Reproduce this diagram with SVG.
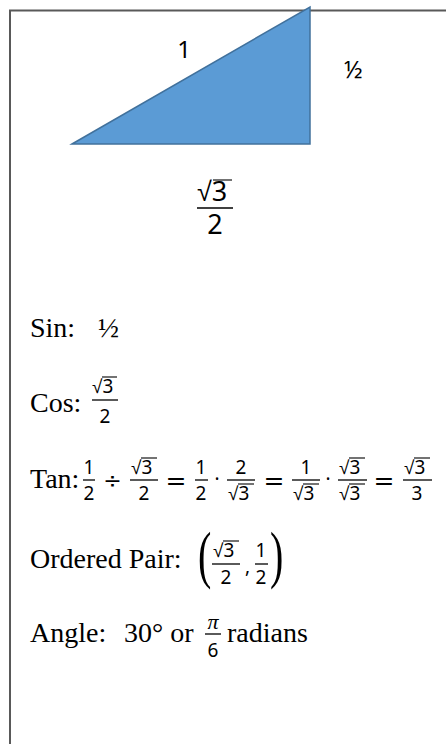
<svg xmlns="http://www.w3.org/2000/svg" width="446" height="744" viewBox="0 0 446 744">
<style>
.t{font-family:"Liberation Serif",serif;font-size:28px;fill:#000}
.m{font-family:"Noto Sans",sans-serif;font-size:19px;fill:#000}
.r{font-family:"Liberation Sans",sans-serif}
.op{font-family:"DejaVu Sans",sans-serif;font-size:25px;fill:#000}
.par{font-family:"Liberation Serif",serif;font-size:40px;fill:#000}
.bar{stroke:#000;stroke-width:1.3}
.ov{stroke:#000;stroke-width:1.1}
.lab{font-family:"Noto Sans",sans-serif;font-size:24px;fill:#000}
</style>
<rect width="446" height="744" fill="#fff"/>
<g id="border"><path d="M10,744 V10.5 H446" fill="none" stroke="#595959" stroke-width="2"/></g>
<g id="triangle"><polygon points="72,144 310,7 310,144" fill="#5B9BD5" stroke="#41719C" stroke-width="1.5"/></g>
<g id="side-labels">
<text class="lab" x="184" y="58" text-anchor="middle">1</text>
<text class="lab" x="344" y="78">½</text>
<g id="base-label">
<text class="m" style="font-size:27px" x="197" y="201"><tspan class="r">√</tspan>3</text>
<line class="ov" x1="213" y1="180" x2="232" y2="180"/>
<line class="bar" x1="197" y1="208" x2="233" y2="208" stroke-width="1.8"/>
<text class="m" style="font-size:27px" x="215" y="234" text-anchor="middle">2</text>
</g>
</g>
<g id="sin"><text class="t" x="30" y="337">Sin:</text><text class="t" x="98" y="337">½</text></g>
<g id="cos">
<text class="t" x="30" y="412">Cos:</text>
<text class="m" x="92" y="393"><tspan class="r">√</tspan>3</text>
<line class="ov" x1="102" y1="377" x2="117" y2="377"/>
<line class="bar" x1="92" y1="400" x2="118" y2="400"/>
<text class="m" x="105" y="423" text-anchor="middle">2</text>
</g>
<g id="tan">
<text class="t" x="30" y="488">Tan:</text>
<text class="m" x="89" y="474" text-anchor="middle">1</text>
<line class="bar" x1="83" y1="480" x2="95" y2="480"/>
<text class="m" x="89" y="500" text-anchor="middle">2</text>
<text class="op" x="112.5" y="488" text-anchor="middle" style="font-size:22px">÷</text>
<text class="m" x="131" y="474"><tspan class="r">√</tspan>3</text>
<line class="ov" x1="141" y1="458" x2="157" y2="458"/>
<line class="bar" x1="130" y1="480" x2="158" y2="480"/>
<text class="m" x="144" y="500" text-anchor="middle">2</text>
<text class="op" x="176" y="489" text-anchor="middle">=</text>
<text class="m" x="201" y="474" text-anchor="middle">1</text>
<line class="bar" x1="195" y1="480" x2="208" y2="480"/>
<text class="m" x="201" y="500" text-anchor="middle">2</text>
<text class="m" x="217" y="486" text-anchor="middle">·</text>
<text class="m" x="241" y="474" text-anchor="middle">2</text>
<line class="bar" x1="227" y1="480" x2="255" y2="480"/>
<text class="m" x="228" y="500"><tspan class="r">√</tspan>3</text>
<line class="ov" x1="238" y1="484" x2="254" y2="484"/>
<text class="op" x="274" y="489" text-anchor="middle">=</text>
<text class="m" x="306" y="474" text-anchor="middle">1</text>
<line class="bar" x1="292" y1="480" x2="320" y2="480"/>
<text class="m" x="293" y="500"><tspan class="r">√</tspan>3</text>
<line class="ov" x1="303" y1="484" x2="319" y2="484"/>
<text class="m" x="328" y="486" text-anchor="middle">·</text>
<text class="m" x="339" y="474"><tspan class="r">√</tspan>3</text>
<line class="ov" x1="349" y1="458" x2="365" y2="458"/>
<line class="bar" x1="338" y1="480" x2="367" y2="480"/>
<text class="m" x="339" y="500"><tspan class="r">√</tspan>3</text>
<line class="ov" x1="349" y1="484" x2="365" y2="484"/>
<text class="op" x="384" y="489" text-anchor="middle">=</text>
<text class="m" x="404" y="474"><tspan class="r">√</tspan>3</text>
<line class="ov" x1="414" y1="458" x2="430" y2="458"/>
<line class="bar" x1="403" y1="480" x2="432" y2="480"/>
<text class="m" x="417" y="500" text-anchor="middle">3</text>
</g>
<g id="pair">
<text class="t" x="30" y="568">Ordered Pair:</text>
<text class="par" transform="translate(198,576) scale(1,1.6)">(</text>
<text class="m" x="213" y="557"><tspan class="r">√</tspan>3</text>
<line class="ov" x1="223" y1="541" x2="239" y2="541"/>
<line class="bar" x1="212" y1="564" x2="240" y2="564"/>
<text class="m" x="226" y="584" text-anchor="middle">2</text>
<text class="m" x="245" y="573">,</text>
<text class="m" x="261" y="557" text-anchor="middle">1</text>
<line class="bar" x1="255" y1="564" x2="268" y2="564"/>
<text class="m" x="261" y="584" text-anchor="middle">2</text>
<text class="par" transform="translate(270,576) scale(1,1.6)">)</text>
</g>
<g id="angle">
<text class="t" x="30" y="642">Angle:</text>
<text class="t" x="124" y="642">30° or</text>
<text class="m" x="213" y="629" text-anchor="middle" style="font-family:'Liberation Serif',serif;font-style:italic;font-size:22px">π</text>
<line class="bar" x1="205" y1="634" x2="221" y2="634"/>
<text class="m" x="213" y="657" text-anchor="middle">6</text>
<text class="t" x="227" y="642">radians</text>
</g>
</svg>
